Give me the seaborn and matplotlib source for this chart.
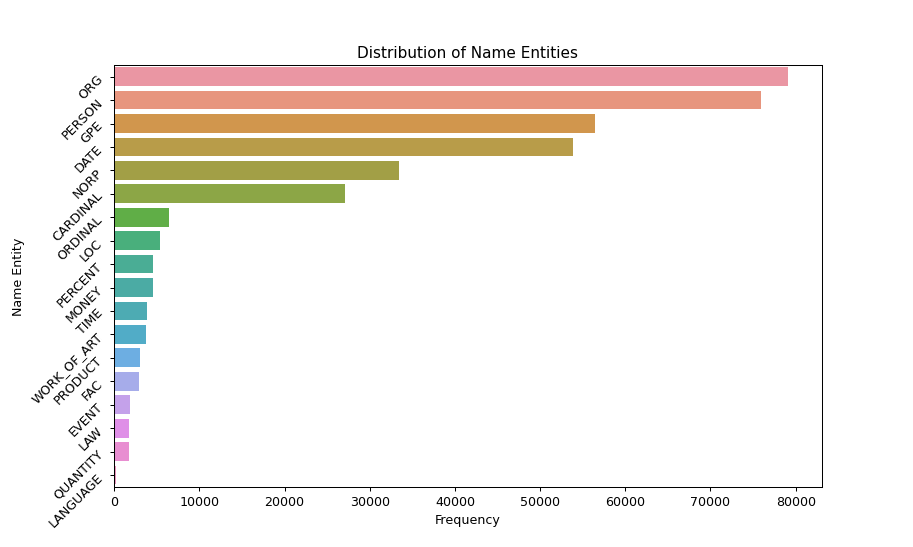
import pandas as pd
import matplotlib
matplotlib.use('Agg')
import matplotlib.pyplot as plt
import seaborn as sns

# entity counts
entities = ['ORG', 'PERSON', 'GPE', 'DATE', 'NORP', 'CARDINAL', 'ORDINAL', 'LOC',
            'PERCENT', 'MONEY', 'TIME', 'WORK_OF_ART', 'PRODUCT', 'FAC', 'EVENT',
            'LAW', 'QUANTITY', 'LANGUAGE']
counts = [79100, 75900, 56500, 53900, 33400, 27100, 6420, 5360,
          4610, 4540, 3870, 3790, 3090, 2900, 1840, 1725, 1725, 200]

df = pd.DataFrame({'Entity': entities, 'Frequency': counts})

# older seaborn default for many categories: husl with l=.7, desaturated to .75
pal = sns.husl_palette(len(entities), l=.7)

fig, ax = plt.subplots(figsize=(10, 6))
sns.barplot(data=df, x='Frequency', y='Entity', hue='Entity',
            palette=pal, legend=False, saturation=0.75, ax=ax)

ax.set_title('Distribution of Name Entities')
ax.set_xlabel('Frequency')
ax.set_ylabel('Name Entity')
plt.yticks(rotation=45)

fig.savefig('out.png', dpi=91.3)
